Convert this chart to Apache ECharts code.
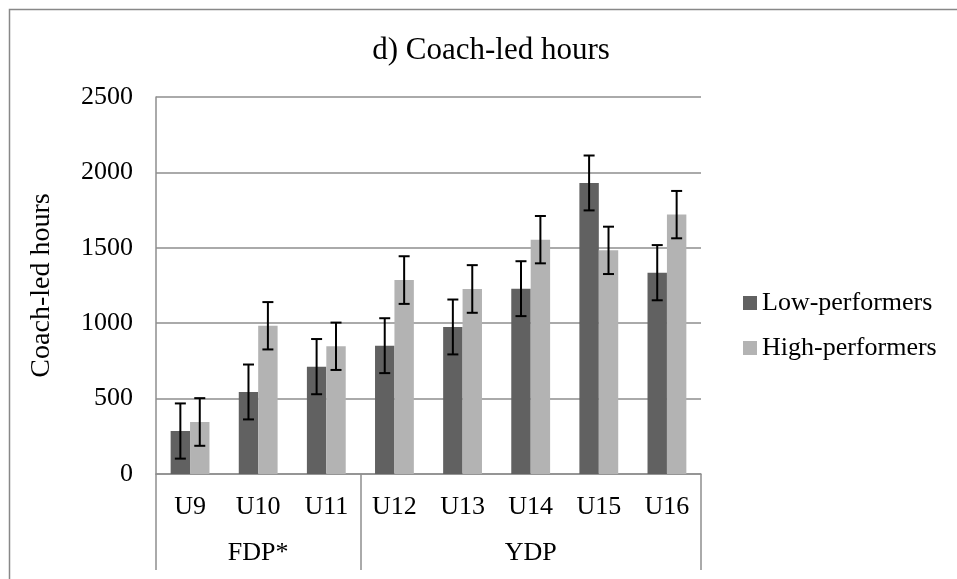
<!DOCTYPE html>
<html>
<head>
<meta charset="utf-8">
<script src="https://cdn.jsdelivr.net/npm/echarts@6/dist/echarts.min.js"></script>
<style>
html,body{margin:0;padding:0;background:#fff;}
#chart{width:957px;height:579px;}
</style>
</head>
<body>
<div id="chart"></div>
<script>
const categories = ['U9','U10','U11','U12','U13','U14','U15','U16'];
const groupNames = ['FDP*','YDP'];
const groupSpans = [3, 5];
const lowValues  = [285, 544, 712, 851, 975, 1229, 1930, 1335];
const lowErrors  = [183, 182, 183, 182, 182, 182, 182, 183];
const highValues = [345, 983, 847, 1286, 1227, 1554, 1483, 1720];
const highErrors = [158, 157, 157, 158, 158, 157, 157, 157];
const yTicks = [0, 500, 1000, 1500, 2000, 2500];

const FONT = "'Liberation Serif','Times New Roman',serif";
const GRID_COLOR = '#8e8e8e';
const CAT_GAP = 0.43;

// group boundaries & centres from spans
const bounds = [0];
groupSpans.forEach(s => bounds.push(bounds[bounds.length-1] + s));
const centers = groupNames.map((g,i) => (bounds[i] + bounds[i+1]) / 2);

function errSeries(name, values, errors, side) {
  return {
    type: 'custom',
    name: name + ' err',
    z: 10,
    silent: true,
    data: values.map((v,i) => [i, v, errors[i]]),
    encode: {x: 0, y: 1},
    renderItem: function (params, api) {
      const i = api.value(0), v = api.value(1), e = api.value(2);
      const band = api.size([1, 0])[0];
      const bw = band * (1 - CAT_GAP) / 2;
      const c = api.coord([i, v]);
      const x = c[0] + side * bw / 2;
      const yTop = api.coord([i, v + e])[1];
      const yBot = api.coord([i, v - e])[1];
      const cap = 5.5;
      const st = {stroke: '#000', lineWidth: 2, fill: null};
      return {
        type: 'group',
        children: [
          {type: 'line', shape: {x1: x, y1: yTop, x2: x, y2: yBot}, style: st},
          {type: 'line', shape: {x1: x - cap, y1: yTop, x2: x + cap, y2: yTop}, style: st},
          {type: 'line', shape: {x1: x - cap, y1: yBot, x2: x + cap, y2: yBot}, style: st}
        ]
      };
    }
  };
}

const chart = echarts.init(document.getElementById('chart'), null, {renderer: 'canvas'});
chart.setOption({
  animation: false,
  backgroundColor: '#fff',
  textStyle: {fontFamily: FONT},
  title: {
    text: 'd) Coach-led hours',
    left: 486, top: 30, textAlign: 'center',
    textStyle: {fontFamily: FONT, fontSize: 31, fontWeight: 'normal', color: '#000'}
  },
  graphic: [{
    type: 'rect', left: 7, top: 7, silent: true,
    shape: {width: 1200, height: 1200},
    style: {fill: null, stroke: '#888', lineWidth: 1.5}
  }],
  legend: {
    orient: 'vertical', left: 743, top: 290,
    data: ['Low-performers', 'High-performers'],
    icon: 'rect', itemWidth: 14, itemHeight: 14, itemGap: 19,
    textStyle: {fontFamily: FONT, fontSize: 26, color: '#000', padding: [0,0,0,0]},
    padding: 0, selectedMode: false
  },
  grid: {left: 156, right: 256, top: 97, bottom: 105, containLabel: false},
  xAxis: [{
    type: 'category', data: categories,
    axisLine: {show: true, lineStyle: {color: GRID_COLOR, width: 1.5}},
    axisTick: {show: false},
    axisLabel: {fontFamily: FONT, fontSize: 26, color: '#000', margin: 20},
    splitLine: {show: false}
  }, {
    type: 'value', min: 0, max: bounds[bounds.length-1], position: 'bottom',
    axisLine: {show: false},
    splitLine: {show: false},
    axisTick: {show: true, customValues: bounds, length: 96, lineStyle: {color: GRID_COLOR, width: 1.5}},
    axisLabel: {show: true, customValues: centers, fontFamily: FONT, fontSize: 26, color: '#000', margin: 66,
      formatter: function (v) { const k = centers.indexOf(v); return k >= 0 ? groupNames[k] : ''; }}
  }],
  yAxis: {
    type: 'value', min: yTicks[0], max: yTicks[yTicks.length-1], interval: yTicks[1] - yTicks[0],
    name: 'Coach-led hours', nameLocation: 'middle', nameGap: 100, nameRotate: 90,
    nameTextStyle: {fontFamily: FONT, fontSize: 28, color: '#000'},
    axisLine: {show: true, lineStyle: {color: GRID_COLOR, width: 1.5}},
    axisTick: {show: false},
    axisLabel: {fontFamily: FONT, fontSize: 26, color: '#000', margin: 23,
      formatter: function (v) { return String(v); }},
    splitLine: {show: true, lineStyle: {color: GRID_COLOR, width: 1.5}}
  },
  series: [
    {type: 'bar', name: 'Low-performers', data: lowValues, itemStyle: {color: '#616161'},
     barGap: '0%', barCategoryGap: (CAT_GAP*100) + '%'},
    {type: 'bar', name: 'High-performers', data: highValues, itemStyle: {color: '#b3b3b3'},
     barGap: '0%', barCategoryGap: (CAT_GAP*100) + '%'},
    errSeries('Low-performers', lowValues, lowErrors, -1),
    errSeries('High-performers', highValues, highErrors, 1)
  ]
});
</script>
</body>
</html>
